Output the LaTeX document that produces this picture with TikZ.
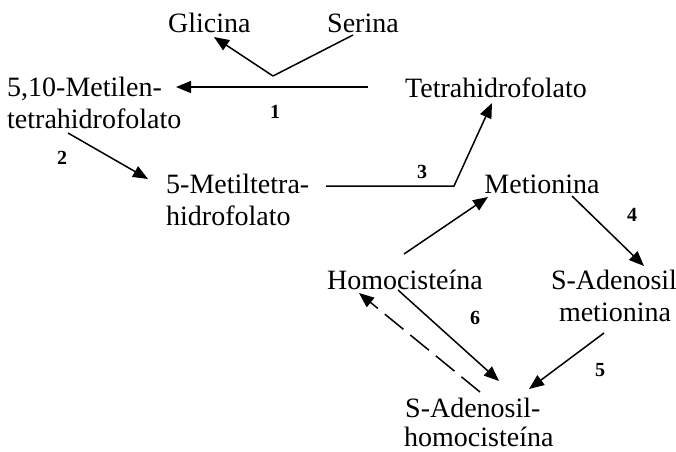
\documentclass[tikz,border=0pt]{standalone}
\usepackage{fontspec}
\setmainfont{Liberation Serif}
\usetikzlibrary{arrows.meta}
\begin{document}
\begin{tikzpicture}[x=1pt,y=-1pt,
  lbl/.style={inner sep=0pt,font=\fontsize{28}{32}\selectfont},
  num/.style={inner sep=0pt,font=\fontsize{20}{22}\selectfont\bfseries},
  conn/.style={line width=1.5pt},
  arr/.style={conn,-{Triangle[length=15pt,width=12pt]}}]
\useasboundingbox (0,0) rectangle (676,451);
% texts
\node[lbl,anchor=base west] (gli) at (168,32) {Glicina};
\node[lbl,anchor=base west] (ser) at (327,32) {Serina};
\node[lbl,anchor=base west] (met1) at (7,96) {5,10-Metilen-};
\node[lbl,anchor=base west] (met2) at (7,128) {tetrahidrofolato};
\node[lbl,anchor=base west] (thf) at (405,97) {Tetrahidrofolato};
\node[lbl,anchor=base west] (mt1) at (166,193) {5-Metiltetra-};
\node[lbl,anchor=base west] (mt2) at (166,225) {hidrofolato};
\node[lbl,anchor=base] (met) at (542,193) {Metionina};
\node[lbl,anchor=base] (hcy) at (405,289) {Homocisteína};
\node[lbl,anchor=base] (sam1) at (614,289) {S-Adenosil};
\node[lbl,anchor=base] (sam2) at (615,321) {metionina};
\node[lbl,anchor=base west] (sah1) at (405,417) {S-Adenosil-};
\node[lbl,anchor=base west] (sah2) at (404,446) {homocisteína};
% numbers
\node[num] (n1) at (275,112) {1};
\node[num] (n2) at (62,158) {2};
\node[num] (n3) at (422,172) {3};
\node[num] (n4) at (632,215) {4};
\node[num] (n5) at (600,370) {5};
\node[num] (n6) at (475,318) {6};
% coordinates
\coordinate (a1s) at (368,87);
\coordinate (a1e) at (176,87);
\coordinate (vx) at (273,76);
\coordinate (sers) at (353,35);
\coordinate (glie) at (214,37);
\coordinate (a2s) at (68,133);
\coordinate (a2e) at (148,179);
\coordinate (a3s) at (326,186);
\coordinate (a3k) at (454,186);
\coordinate (a3e) at (492,103);
\coordinate (hms) at (404,254);
\coordinate (hme) at (488,197);
\coordinate (mss) at (572,196);
\coordinate (mse) at (644,266);
\coordinate (sss) at (604,333);
\coordinate (sse) at (529,389);
\coordinate (hss) at (398,290);
\coordinate (hse) at (499,381);
\coordinate (dss) at (480,392);
\coordinate (dse) at (359,293);
% connectors
\draw[arr] (a1s) -- (a1e);
\draw[conn] (sers) -- (vx);
\draw[arr] (vx) -- (glie);
\draw[arr] (a2s) -- (a2e);
\draw[arr] (a3s) -- (a3k) -- (a3e);
\draw[arr] (hms) -- (hme);
\draw[arr] (mss) -- (mse);
\draw[arr] (sss) -- (sse);
\draw[arr] (hss) -- (hse);
\draw[arr,dash pattern=on 24pt off 9pt] (dss) -- (dse);
\end{tikzpicture}
\end{document}
